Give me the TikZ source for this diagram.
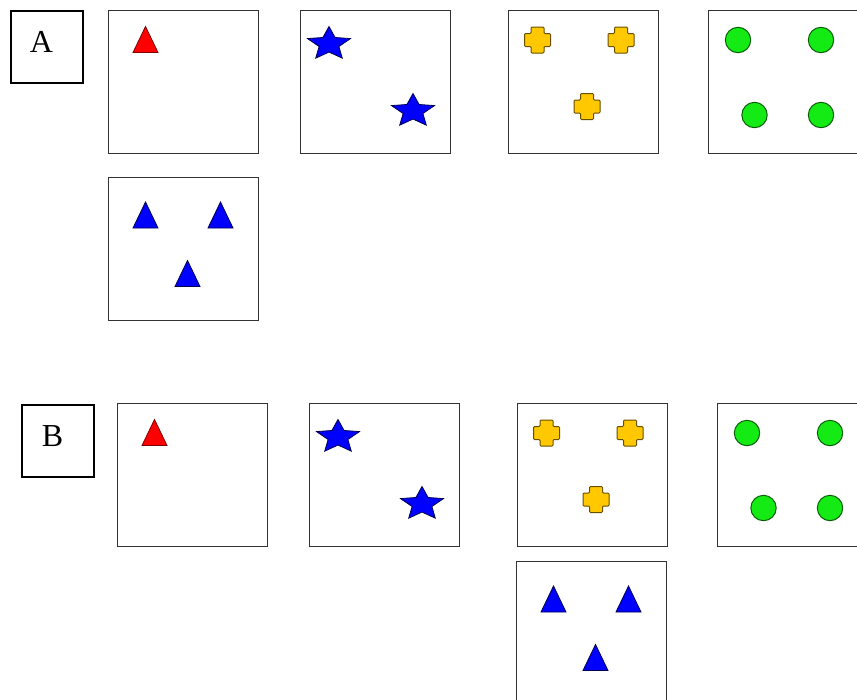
\documentclass[tikz,border=0pt]{standalone}
\usepackage{fontspec}
\setmainfont{Liberation Serif}
\usetikzlibrary{positioning,calc}
\definecolor{trired}{RGB}{255,0,0}
\definecolor{starblue}{RGB}{0,0,255}
\definecolor{plusgold}{RGB}{255,200,0}
\definecolor{dotgreen}{RGB}{20,235,20}

\begin{document}
\begin{tikzpicture}[
    x=1pt, y=-1pt,
    panel/.style={draw=black!80, line width=1.2pt, minimum width=150pt, minimum height=143pt, inner sep=0pt, anchor=north west},
    tag/.style={draw=black, line width=2pt, minimum size=72pt, inner sep=0pt, anchor=north west},
    tagtext/.style={font=\fontsize{32}{38}\selectfont, xshift=-5.5pt, yshift=5pt},
    redfill/.style={fill=trired, draw=trired!50!black, line width=0.8pt},
    bluefill/.style={fill=starblue, draw=starblue!30!black, line width=0.8pt},
    goldfill/.style={fill=plusgold, draw=plusgold!40!black, line width=1pt},
    greenfill/.style={fill=dotgreen, draw=dotgreen!40!black, line width=1pt},
    tri/.pic={\path[pic actions] (-12.5,13) -- (0,-13) -- (12.5,13) -- cycle;},
    star/.pic={\path[pic actions] plot[samples at={0,...,9}]
        ({22.6*(0.73+0.27*cos(180*\x))*cos(-90+36*\x)}, {17.5*(0.73+0.27*cos(180*\x))*sin(-90+36*\x)}) -- cycle;},
    plus/.pic={\path[pic actions, rounded corners=1pt] (-6.5,-13) -- (6.5,-13) -- (6.5,-6.5) -- (13,-6.5) -- (13,6.5)
        -- (6.5,6.5) -- (6.5,13) -- (-6.5,13) -- (-6.5,6.5) -- (-13,6.5) -- (-13,-6.5) -- (-6.5,-6.5) -- cycle;},
    dot/.pic={\path[pic actions] (0,0) circle[radius=12.7];},
    onered/.pic={\pic[redfill] at (37.5,29.5) {tri};},
    twostars/.pic={\pic[bluefill] at (29,34) {star}; \pic[bluefill] at (113,101) {star};},
    threeplus/.pic={\pic[goldfill] at (29.5,30) {plus}; \pic[goldfill] at (113,30) {plus}; \pic[goldfill] at (79,96.5) {plus};},
    fourdots/.pic={\pic[greenfill] at (30,30) {dot}; \pic[greenfill] at (113,30) {dot};
        \pic[greenfill] at (46.5,105) {dot}; \pic[greenfill] at (113,105) {dot};},
    threetris/.pic={\pic[bluefill] at (37.5,38) {tri}; \pic[bluefill] at (112.5,38) {tri}; \pic[bluefill] at (79.5,96.5) {tri};}
]
\clip (0,0) rectangle (857,699);

% --- Row A ---
\node[tag, label={[tagtext]center:A}] (taga) at (10,10) {};
\node[panel] (a1) at (108,10) {};
\node[panel] (a2) at (300,10) {};
\node[panel] (a3) at (508,10) {};
\node[panel] (a4) at (708,10) {};
\node[panel] (a5) at (108,177) {};

\pic at (a1.north west) {onered};
\pic at (a2.north west) {twostars};
\pic at (a3.north west) {threeplus};
\pic at (a4.north west) {fourdots};
\pic at (a5.north west) {threetris};

% --- Row B ---
\node[tag, label={[tagtext]center:B}] (tagb) at (21,404) {};
\node[panel] (b1) at (117,403) {};
\node[panel] (b2) at (309,403) {};
\node[panel] (b3) at (517,403) {};
\node[panel] (b4) at (717,403) {};
\node[panel] (b5) at (516,561) {};

\pic at (b1.north west) {onered};
\pic at (b2.north west) {twostars};
\pic at (b3.north west) {threeplus};
\pic at (b4.north west) {fourdots};
\pic at (b5.north west) {threetris};

\end{tikzpicture}
\end{document}
